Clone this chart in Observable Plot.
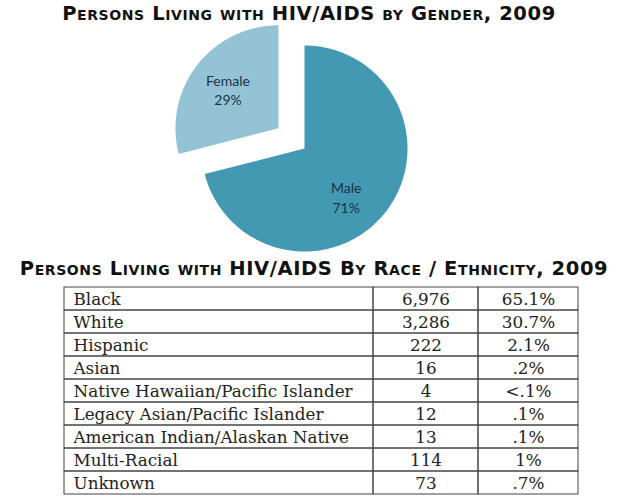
<!DOCTYPE html>
<html><head><meta charset="utf-8">
<script src="https://cdn.jsdelivr.net/npm/d3@7"></script>
<script src="https://cdn.jsdelivr.net/npm/@observablehq/plot@0.6"></script>
<style>
body{margin:0;background:#fff;}
#wrap{position:relative;width:630px;height:499px;overflow:hidden;background:#fff;}
.title{position:absolute;width:630px;text-align:center;font-family:"DejaVu Sans",sans-serif;font-weight:bold;font-variant:small-caps;font-size:19.5px;letter-spacing:0.6px;color:#111;line-height:1;white-space:nowrap;}
#pie{position:absolute;left:0;top:20px;}
#table{position:absolute;left:0;top:280px;}
</style></head><body><div id="wrap">
<div id="pie"></div>
<div class="title" id="t1" style="top:4px;left:-6px">Persons Living with HIV/AIDS by Gender, 2009</div>
<div class="title" id="t2" style="top:259px;left:-1px">Persons Living with HIV/AIDS By Race / Ethnicity, 2009</div>
<div id="table"></div>
</div>
<script>
// ---- data ----
const genders = ["Male", "Female"];
const genderShares = [71, 29];
const genderColors = ["#4398b2", "#93c3d5"];

const races = ["Black", "White", "Hispanic", "Asian", "Native Hawaiian/Pacific Islander",
  "Legacy Asian/Pacific Islander", "American Indian/Alaskan Native", "Multi-Racial", "Unknown"];
const raceCounts = [6976, 3286, 222, 16, 4, 12, 13, 114, 73];
const racePercents = ["65.1%", "30.7%", "2.1%", ".2%", "<.1%", ".1%", ".1%", "1%", ".7%"];

// ---- pie ----
const W = 630, PH = 240, R = 103, cx = 304, cy = 128;
const explode = {Female: 0.32};
const total = d3.sum(genderShares);
const pts = [], labels = [];
let cum = 0;
genders.forEach((g, i) => {
  const a0 = cum / total * 2 * Math.PI;
  cum += genderShares[i];
  const a1 = cum / total * 2 * Math.PI;
  const mid = (a0 + a1) / 2;
  const e = explode[g] || 0;
  const ox = e * Math.sin(mid), oy = e * Math.cos(mid);
  pts.push({gender: g, x: ox, y: oy});
  const n = Math.ceil((a1 - a0) / (Math.PI / 180));
  for (let k = 0; k <= n; k++) {
    const a = a0 + (a1 - a0) * k / n;
    pts.push({gender: g, x: ox + Math.sin(a), y: oy + Math.cos(a)});
  }
  pts.push({gender: g, x: ox, y: oy});
  const lr = 0.62, la = mid + (e ? 0 : 0.2);
  labels.push({x: ox + lr * Math.sin(la), y: oy + lr * Math.cos(la), text: `${g}\n${genderShares[i]}%`});
});

const pie = Plot.plot({
  width: W, height: PH, margin: 0,
  x: {domain: [-cx / R, (W - cx) / R], axis: null},
  y: {domain: [-(PH - cy) / R, cy / R], axis: null},
  color: {domain: genders, range: genderColors},
  marks: [
    Plot.line(pts, {x: "x", y: "y", z: "gender", fill: "gender", stroke: "none"}),
    Plot.text(labels, {x: "x", y: "y", text: "text", fill: "#1b3347", fontSize: 14,
      lineHeight: 1.4, fontFamily: "Lato, 'Open Sans', sans-serif"})
  ]
});
document.getElementById("pie").appendChild(pie);

// ---- table ----
const rows = races.map((r, i) => ({race: r, count: raceCounts[i], pct: racePercents[i]}));
const TH = 219;
const colEdges = [64, 373, 478, 578];
const borderStyle = {y: "race", fill: "none", stroke: "#444", strokeWidth: 1};
const font = "'DejaVu Serif', serif";
const table = Plot.plot({
  width: W, height: TH, margin: 0,
  x: {domain: [0, W], range: [0, W], axis: null},
  y: {type: "band", domain: races, range: [6, 214], padding: 0, axis: null},
  marks: [
    Plot.barX(rows, {x1: colEdges[0], x2: colEdges[1], ...borderStyle}),
    Plot.barX(rows, {x1: colEdges[1], x2: colEdges[2], ...borderStyle}),
    Plot.barX(rows, {x1: colEdges[2], x2: colEdges[3], ...borderStyle}),
    Plot.text(rows, {x: colEdges[0] + 9, y: "race", text: "race", textAnchor: "start",
      fontSize: 16.8, fontFamily: font, fill: "#222", dy: 1}),
    Plot.text(rows, {x: (colEdges[1] + colEdges[2]) / 2, y: "race", text: d => d3.format(",")(d.count),
      fontSize: 16.8, fontFamily: font, fill: "#222", dy: 1}),
    Plot.text(rows, {x: (colEdges[2] + colEdges[3]) / 2, y: "race", text: "pct",
      fontSize: 16.8, fontFamily: font, fill: "#222", dy: 1})
  ]
});
document.getElementById("table").appendChild(table);
</script>
</body></html>
